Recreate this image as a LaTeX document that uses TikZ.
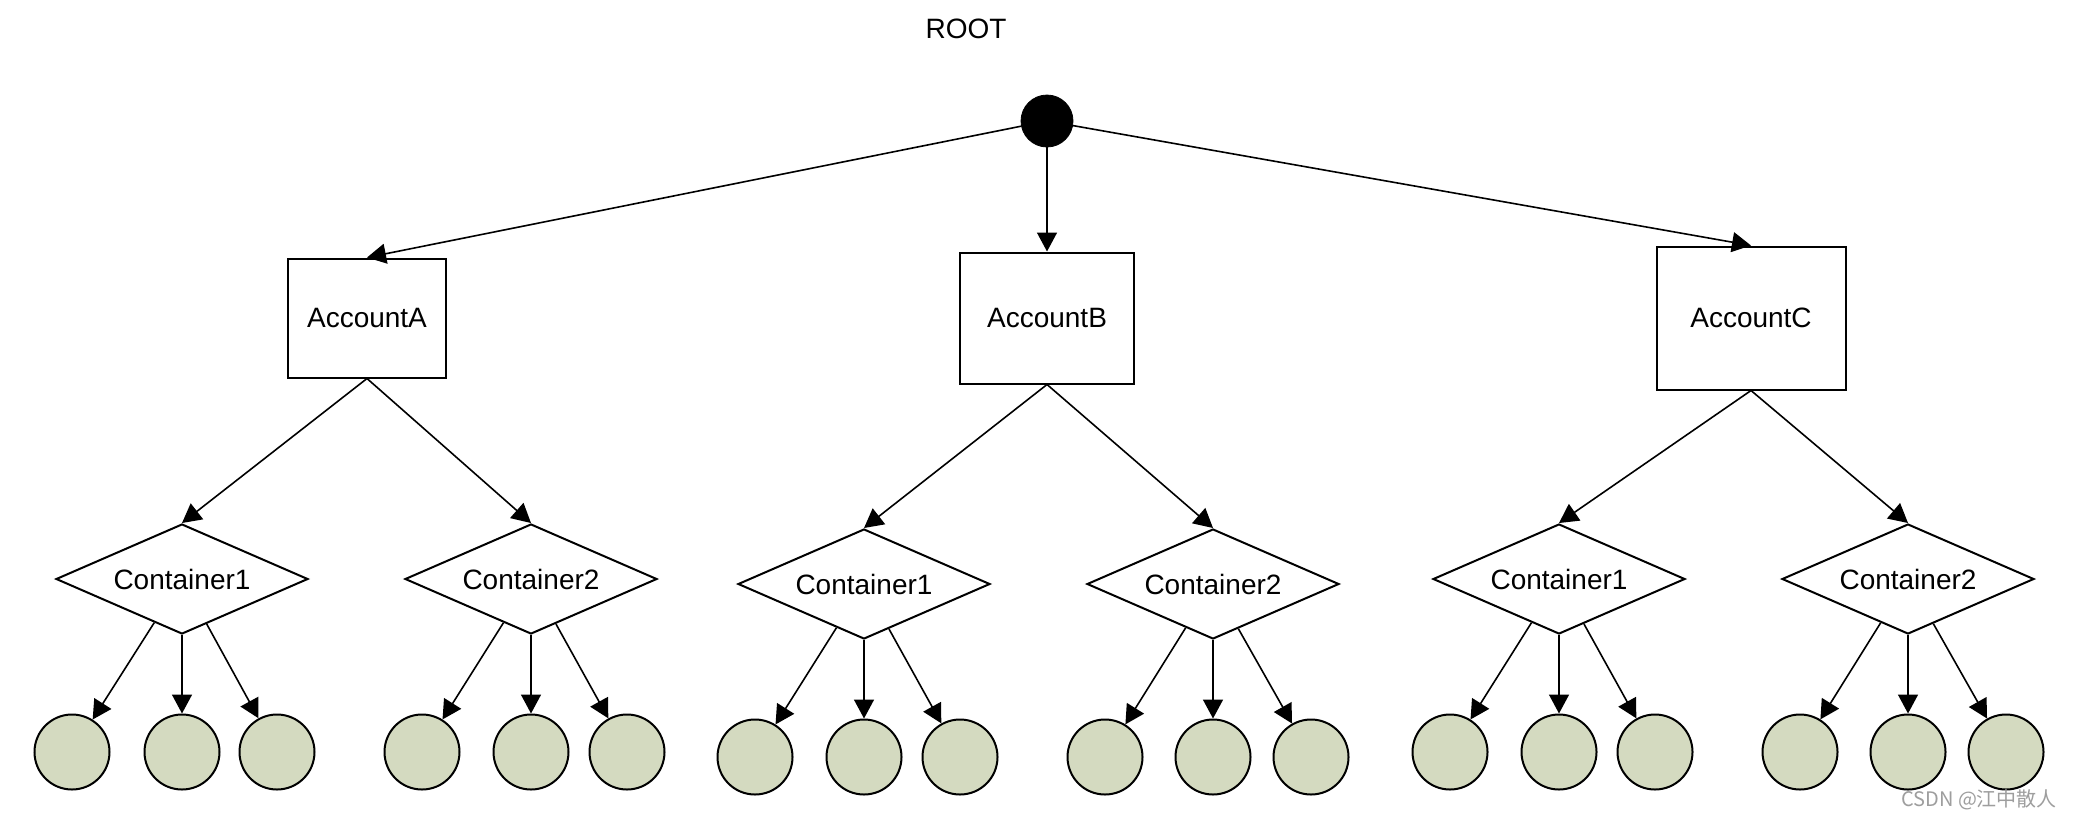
\documentclass[tikz,border=0pt]{standalone}
\usepackage{fontspec}
\setmainfont{Liberation Sans}
\newfontfamily\cjkfont{Noto Sans CJK SC}
\usetikzlibrary{shapes.geometric,arrows.meta}
\definecolor{leaffill}{HTML}{D4DAC0}
\tikzset{
  every node/.style={font=\fontsize{14pt}{16pt}\selectfont},
  acct/.style={draw, line width=1pt, rectangle, inner sep=0pt},
  cont/.style={draw, line width=1pt, diamond, aspect=2.29, inner sep=0pt, minimum width=126pt, minimum height=55pt},
  leaf/.style={draw, line width=1pt, circle, fill=leaffill, minimum size=37.5pt, inner sep=0pt},
  rootdot/.style={circle, fill=black, draw=black, minimum size=26pt, inner sep=0pt},
  edge/.style={line width=0.8pt, -{Triangle[length=9.5pt,width=10pt]}, shorten <=0pt}
}
\begin{document}
\begin{tikzpicture}[x=0.5pt,y=-0.5pt]
\useasboundingbox (0,0) rectangle (2080,820);
\fill[white] (0,0) rectangle (2080,820);

\node (roottxt) at (966,29) {ROOT};
\node[rootdot] (root) at (1047,121) {};

\node[acct, minimum width=79pt, minimum height=59.5pt] (accA) at (367,318) {AccountA};
\node[acct, minimum width=87pt, minimum height=65.5pt] (accB) at (1047,318) {AccountB};
\node[acct, minimum width=94.5pt, minimum height=71.5pt] (accC) at (1751,318) {AccountC};

\node[cont] (a1) at (182,579) {Container1};
\node[cont] (a2) at (531,579) {Container2};
\node[cont] (b1) at (864,584) {Container1};
\node[cont] (b2) at (1213,584) {Container2};
\node[cont] (c1) at (1559,579) {Container1};
\node[cont] (c2) at (1908,579) {Container2};

\foreach \n/\x/\y in {a1l/72/752, a1m/182/752, a1r/277/752,
                      a2l/422/752, a2m/531/752, a2r/627/752,
                      b1l/755/757, b1m/864/757, b1r/960/757,
                      b2l/1105/757, b2m/1213/757, b2r/1311/757,
                      c1l/1450/752, c1m/1559/752, c1r/1655/752,
                      c2l/1800/752, c2m/1908/752, c2r/2006/752}
  \node[leaf] (\n) at (\x,\y) {};

\draw[edge] (root) -- (accA.north);
\draw[edge] (root) -- (accB.north);
\draw[edge] (root) -- (accC.north);

\draw[edge] (accA.south) -- (a1.north);
\draw[edge] (accA.south) -- (a2.north);
\draw[edge] (accB.south) -- (b1.north);
\draw[edge] (accB.south) -- (b2.north);
\draw[edge] (accC.south) -- (c1.north);
\draw[edge] (accC.south) -- (c2.north);

\foreach \c in {a1,a2,b1,b2,c1,c2}{
  \draw[edge] (\c) -- (\c l);
  \draw[edge] (\c) -- (\c m);
  \draw[edge] (\c) -- (\c r);
}

\node[anchor=base east, text=black!38, font=\fontsize{10pt}{12pt}\cjkfont] (wm) at (2064,806) {CSDN @江中散人};
\end{tikzpicture}
\end{document}
